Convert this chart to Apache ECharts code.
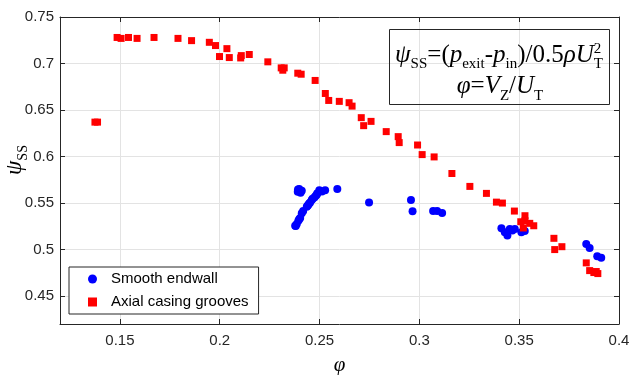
<!DOCTYPE html>
<html><head><meta charset="utf-8">
<script src="https://cdn.jsdelivr.net/npm/echarts@6/dist/echarts.min.js"></script>
<style>html,body{margin:0;padding:0;background:#fff}#c{width:630px;height:375px}</style>
</head><body><div id="c"></div>
<script>
const xTicks = [0.15, 0.2, 0.25, 0.3, 0.35, 0.4];
const yTicks = [0.45, 0.5, 0.55, 0.6, 0.65, 0.7, 0.75];
const legendNames = ['Smooth endwall', 'Axial casing grooves'];

const smoothEndwall = [
  [0.2378,0.5256],[0.2381,0.5253],[0.2386,0.5275],[0.2394,0.531],[0.2398,0.5325],[0.2403,0.534],
  [0.2411,0.539],[0.2418,0.5415],[0.2436,0.546],[0.2440,0.547],[0.2444,0.5481],[0.2448,0.5495],
  [0.2453,0.5507],[0.2461,0.5532],[0.2465,0.5545],[0.2474,0.5561],[0.2480,0.5575],[0.2486,0.5589],
  [0.2489,0.5605],[0.2391,0.5621],[0.2392,0.5645],[0.2398,0.565],[0.2404,0.5625],[0.2411,0.5632],
  [0.2405,0.561],[0.2499,0.5639],[0.2512,0.5625],[0.2528,0.5639],[0.2589,0.565],[0.2748,0.5507],
  [0.2958,0.5532],[0.2966,0.5411],[0.3069,0.5414],[0.3089,0.5414],[0.3114,0.5393],
  [0.3411,0.5229],[0.3428,0.5186],[0.3441,0.515],[0.3453,0.5222],[0.3466,0.5204],[0.3478,0.5222],
  [0.3511,0.5186],[0.3528,0.52],[0.3836,0.506],[0.3853,0.5018],[0.3891,0.4929],[0.3911,0.4911]
];
const axialGrooves = [
  [0.1375,0.637],[0.1388,0.637],
  [0.1486,0.728],[0.1506,0.727],[0.1543,0.728],[0.1586,0.727],[0.1671,0.728],[0.1791,0.727],
  [0.1859,0.7246],[0.1948,0.7228],[0.1979,0.7193],[0.2036,0.716],[0.1999,0.7075],[0.2048,0.7064],
  [0.2105,0.706],[0.2108,0.7085],[0.2148,0.7097],[0.2241,0.7018],[0.2308,0.6953],[0.2316,0.6928],
  [0.2323,0.6953],[0.2391,0.6896],[0.2408,0.6885],[0.2478,0.6818],[0.2529,0.6678],[0.2546,0.6603],
  [0.2599,0.6593],[0.2648,0.6579],[0.2663,0.6542],[0.2709,0.6418],[0.2721,0.6332],[0.2758,0.6378],
  [0.2834,0.6268],[0.2894,0.6214],[0.2899,0.615],[0.2991,0.6124],[0.3014,0.6021],[0.3074,0.5996],
  [0.3163,0.5818],[0.3253,0.5679],[0.3336,0.5604],[0.3386,0.551],[0.3416,0.55],[0.3476,0.5414],
  [0.3508,0.5299],[0.3529,0.5364],[0.3529,0.531],[0.3553,0.5282],[0.3573,0.5256],[0.3521,0.5232],
  [0.3674,0.5121],[0.3678,0.5],[0.3714,0.5031],[0.3836,0.4857],[0.3853,0.4774],[0.3874,0.4753],
  [0.3886,0.4764],[0.3894,0.4742]
];

const AX = '#262626';
const GRID = '#e3e3e3';
const SERIF = '"Liberation Serif", "DejaVu Serif", serif';

const cnv = document.createElement('canvas').getContext('2d');
function fontStr(p) { return (p.it ? 'italic ' : '') + p.s + 'px ' + SERIF; }
function lineEls(pieces, cx, base) {
  let w = 0; const xs = [];
  pieces.forEach(p => { cnv.font = fontStr(p); p.w = cnv.measureText(p.t).width; xs.push(w); if (!p.na) w += p.w; });
  const x0 = cx - w / 2;
  return pieces.map((p, i) => ({
    type: 'text', silent: true, z: 100,
    x: x0 + xs[i], y: base + (p.dy || 0) - 0.34 * p.s,
    style: { text: p.t, fontSize: p.s, fontFamily: SERIF, fontStyle: p.it ? 'italic' : 'normal',
      fill: '#000', align: 'left', verticalAlign: 'middle' }
  }));
}
const line1 = [
  {t:'ψ', s:25, it:true}, {t:'SS', s:15, dy:6}, {t:'=(', s:25}, {t:'p', s:25, it:true},
  {t:'exit', s:15, dy:6}, {t:'-', s:25}, {t:'p', s:25, it:true}, {t:'in', s:15, dy:6},
  {t:')/0.5', s:25}, {t:'ρ', s:25, it:true}, {t:'U', s:25, it:true}, {t:'2', s:15, dy:-9, na:true},
  {t:'T', s:15, dy:6}
];
const line2 = [
  {t:'φ', s:25, it:true}, {t:'=', s:25}, {t:'V', s:25, it:true}, {t:'Z', s:15, dy:6},
  {t:'/', s:25}, {t:'U', s:25, it:true}, {t:'T', s:15, dy:6}
];
const ylab = [{t:'ψ', s:23, it:true}, {t:'SS', s:14, dy:5}];

const graphics = [
  { type: 'rect', silent: true, z: 99, shape: { x: 389.5, y: 29.5, width: 220, height: 75 },
    style: { fill: 'none', stroke: AX, lineWidth: 1 } },
  ...lineEls(line1, 499, 63.5),
  ...lineEls(line2, 500, 95),
  { type: 'group', x: 15, y: 160, rotation: Math.PI / 2, children: lineEls(ylab, 0, 8) }
];

function xAxisDef(pos, main) {
  return {
    type: 'value', position: pos, min: 0.12, max: 0.4,
    axisLine: { show: true, onZero: false, lineStyle: { color: AX, width: 1 } },
    axisTick: { show: true, inside: true, length: 5, customValues: xTicks, lineStyle: { color: AX } },
    axisLabel: { show: main, customValues: xTicks, color: AX, fontSize: 15, fontFamily: 'Liberation Sans', margin: 9 },
    splitLine: { show: main, lineStyle: { color: GRID, width: 1 } },
    name: main ? 'φ' : '', nameLocation: 'middle', nameGap: 31,
    nameTextStyle: { fontFamily: SERIF, fontStyle: 'italic', fontSize: 21, color: '#000' }
  };
}
function yAxisDef(pos, main) {
  return {
    type: 'value', position: pos, min: 0.42, max: 0.75,
    axisLine: { show: true, onZero: false, lineStyle: { color: AX, width: 1 } },
    axisTick: { show: true, inside: true, length: 5, customValues: yTicks, lineStyle: { color: AX } },
    axisLabel: { show: main, customValues: yTicks, color: AX, fontSize: 15, fontFamily: 'Liberation Sans', margin: 6 },
    splitLine: { show: main, lineStyle: { color: GRID, width: 1 } }
  };
}

const chart = echarts.init(document.getElementById('c'), null, { renderer: 'canvas' });
chart.setOption({
  animation: false,
  backgroundColor: '#fff',
  grid: { left: 60, right: 11, top: 17, bottom: 51, containLabel: false, outerBoundsMode: 'none' },
  xAxis: [xAxisDef('bottom', true), xAxisDef('top', false)],
  yAxis: [yAxisDef('left', true), yAxisDef('right', false)],
  legend: {
    left: 69, top: 267, orient: 'vertical',
    data: [{ name: legendNames[0], icon: 'circle' }, { name: legendNames[1], icon: 'rect' }],
    itemWidth: 9, itemHeight: 9, itemGap: 5,
    padding: [3, 10, 3, 19],
    borderColor: AX, borderWidth: 1, backgroundColor: '#fff',
    textStyle: { fontSize: 15, fontFamily: 'Liberation Sans', color: '#000', lineHeight: 18, padding: [0, 0, 0, 9] },
    z: 50
  },
  graphic: graphics,
  series: [
    { name: legendNames[0], type: 'scatter', xAxisIndex: 0, yAxisIndex: 0, symbol: 'circle', symbolSize: 8,
      itemStyle: { color: '#0000ff', opacity: 1 }, data: smoothEndwall, emphasis: { disabled: true } },
    { name: legendNames[1], type: 'scatter', xAxisIndex: 0, yAxisIndex: 0, symbol: 'rect', symbolSize: 7,
      itemStyle: { color: '#ff0000', opacity: 1 }, data: axialGrooves, emphasis: { disabled: true } }
  ]
});
</script>
</body></html>
